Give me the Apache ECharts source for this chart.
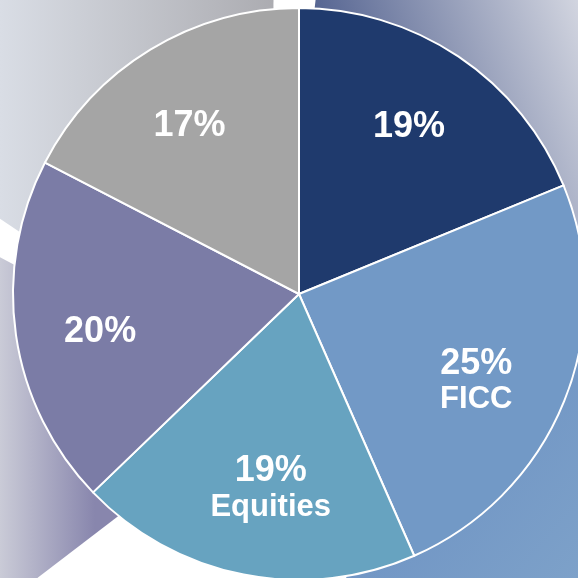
<!DOCTYPE html>
<html>
<head>
<meta charset="utf-8">
<style>
html, body { margin: 0; padding: 0; background: #fff; }
#pie { width: 578px; height: 578px; }
</style>
<script src="https://cdn.jsdelivr.net/npm/echarts@6/dist/echarts.min.js"></script>
</head>
<body>
<div id="pie"></div>
<script>
// slices clockwise from 12 o'clock
var categories = ['', 'FICC', 'Equities', '', '']
var shares = [18.8, 24.6, 19.4, 19.8, 17.4]
var colors = ['#1f3a6d', '#7299c6', '#67a3c0', '#7b7ca6', '#a5a5a5']

var G = echarts.graphic.LinearGradient
// faded "projection" behind the pie
var bgColors = [
    new G(300, 40, 578, -60, [{ offset: 0, color: '#4a5a8a' }, { offset: 1, color: '#dcdee6' }], true),
    new G(420, 440, 578, 578, [{ offset: 0, color: '#6f94c4' }, { offset: 1, color: '#7da1c9' }], true),
    '#ffffff',
    new G(0, 0, 95, 0, [{ offset: 0, color: '#cacbd7' }, { offset: 1, color: '#8886ad' }], true),
    new G(0, 0, 290, 0, [{ offset: 0, color: '#d9dde5' }, { offset: 1, color: '#a9a9ae' }], true)
]

function makeData(fills) {
    return shares.map(function (v, i) {
        return { name: categories[i], value: v, itemStyle: { color: fills[i] } }
    })
}

var font = '"Liberation Sans", Arial, sans-serif'
// small nudges so labels sit where the original put them (not exactly on the bisector)
var nudge = [[-3, 2], [-11, 12], [11, -4], [2, 9], [-4, 5]]

var option = {
    animation: false,
    series: [
        {
            // background projection
            type: 'pie',
            silent: true,
            center: [270, 400],
            radius: [0, 560],
            startAngle: 86.5,
            padAngle: 6,
            label: { show: false },
            labelLine: { show: false },
            data: makeData(bgColors)
        },
        {
            type: 'pie',
            silent: true,
            center: [299, 294],
            radius: [0, 286],
            startAngle: 90,
            itemStyle: { borderColor: '#fff', borderWidth: 2 },
            label: { show: false },
            labelLine: { show: false },
            data: makeData(colors)
        },
        {
            // transparent ring only used to place the labels at ~0.7r
            type: 'pie',
            silent: true,
            center: [299, 294],
            radius: [114, 286],
            startAngle: 90,
            itemStyle: { color: 'rgba(0,0,0,0)' },
            labelLine: { show: false },
            label: {
                show: true,
                position: 'inside',
                formatter: function (p) {
                    var s = '{p|' + Math.round(p.value) + '%}'
                    if (p.name) s += '\n{n|' + p.name + '}'
                    return s
                },
                rich: {
                    p: { color: '#fff', fontSize: 36, fontWeight: 'bold', fontFamily: font, lineHeight: 36 },
                    n: { color: '#fff', fontSize: 31, fontWeight: 'bold', fontFamily: font, lineHeight: 36 }
                }
            },
            data: shares.map(function (v, i) {
                return { name: categories[i], value: v, label: { offset: nudge[i] } }
            })
        }
    ]
}

echarts.init(document.getElementById('pie')).setOption(option)
</script>
</body>
</html>
